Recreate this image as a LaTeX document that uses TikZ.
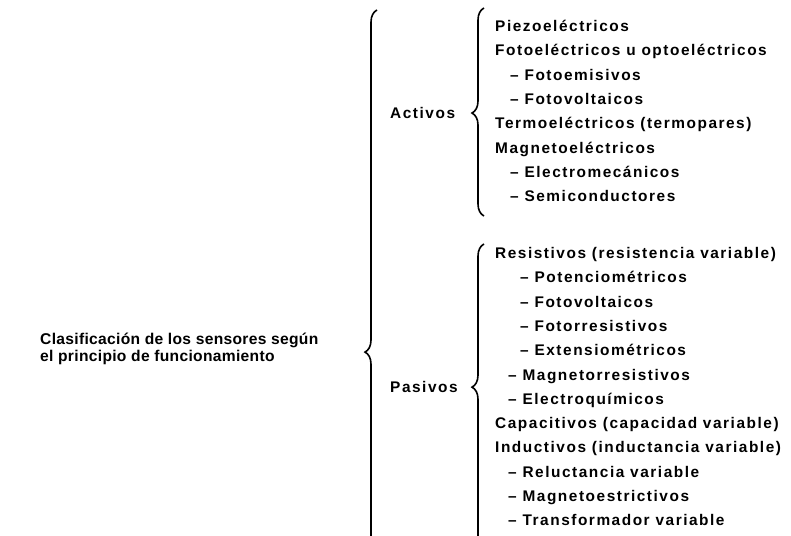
\documentclass[tikz,border=0pt]{standalone}
\usepackage{fontspec}
\setmainfont{Liberation Sans}[LetterSpace=10]
\newfontfamily\mainlblfont{Liberation Sans}[LetterSpace=2]
\usetikzlibrary{decorations.pathreplacing}
\begin{document}
\begin{tikzpicture}[x=1pt,y=-1pt,
  lbl/.style={anchor=base west,inner sep=0pt,font=\fontsize{15.4}{18}\selectfont\bfseries},
  mainlbl/.style={anchor=base west,inner sep=0pt,font=\mainlblfont\fontsize{15.6}{18}\selectfont\bfseries},
  bracepath/.style={draw,line width=1.6pt,decorate,decoration={brace,amplitude=12pt,aspect=#1}}]
\useasboundingbox (0,0) rectangle (791,535);
\clip (0,0) rectangle (791,535);
% main label
\node[mainlbl] (m1) at (40,344) {Clasificación de los sensores según};
\node[mainlbl] (m2) at (40,361.5) {el principio de funcionamiento};
% group labels
\node[lbl] (act) at (390,118.5) {Activos};
\node[lbl] (pas) at (390,392.5) {Pasivos};
% braces
\coordinate (bb) at (377,560);
\coordinate (bt) at (377,10);
\draw[bracepath=0.378] (bb) -- (bt);
\coordinate (ab) at (484,216);
\coordinate (at) at (484,8);
\draw[bracepath=0.495] (ab) -- (at);
\coordinate (pb) at (484,560);
\coordinate (pt) at (484,244);
\draw[bracepath=0.547] (pb) -- (pt);
% Activos items
\node[lbl] (a1) at (495,31.5) {Piezoeléctricos};
\node[lbl] (a2) at (495,55.5) {Fotoeléctricos u optoeléctricos};
\node[lbl] (a3) at (510,80) {– Fotoemisivos};
\node[lbl] (a4) at (510,104.5) {– Fotovoltaicos};
\node[lbl] (a5) at (495,128.5) {Termoeléctricos (termopares)};
\node[lbl] (a6) at (495,153) {Magnetoeléctricos};
\node[lbl] (a7) at (510,177.5) {– Electromecánicos};
\node[lbl] (a8) at (510,201.5) {– Semiconductores};
% Pasivos items
\node[lbl] (p1) at (495,258.5) {Resistivos (resistencia variable)};
\node[lbl] (p2) at (520,282.8) {– Potenciométricos};
\node[lbl] (p3) at (520,307.1) {– Fotovoltaicos};
\node[lbl] (p4) at (520,331.4) {– Fotorresistivos};
\node[lbl] (p5) at (520,355.7) {– Extensiométricos};
\node[lbl] (p6) at (508,380) {– Magnetorresistivos};
\node[lbl] (p7) at (508,404.3) {– Electroquímicos};
\node[lbl] (p8) at (495,428.6) {Capacitivos (capacidad variable)};
\node[lbl] (p9) at (495,452.9) {Inductivos (inductancia variable)};
\node[lbl] (p10) at (508,477.2) {– Reluctancia variable};
\node[lbl] (p11) at (508,501.5) {– Magnetoestrictivos};
\node[lbl] (p12) at (508,525.8) {– Transformador variable};
\end{tikzpicture}
\end{document}
